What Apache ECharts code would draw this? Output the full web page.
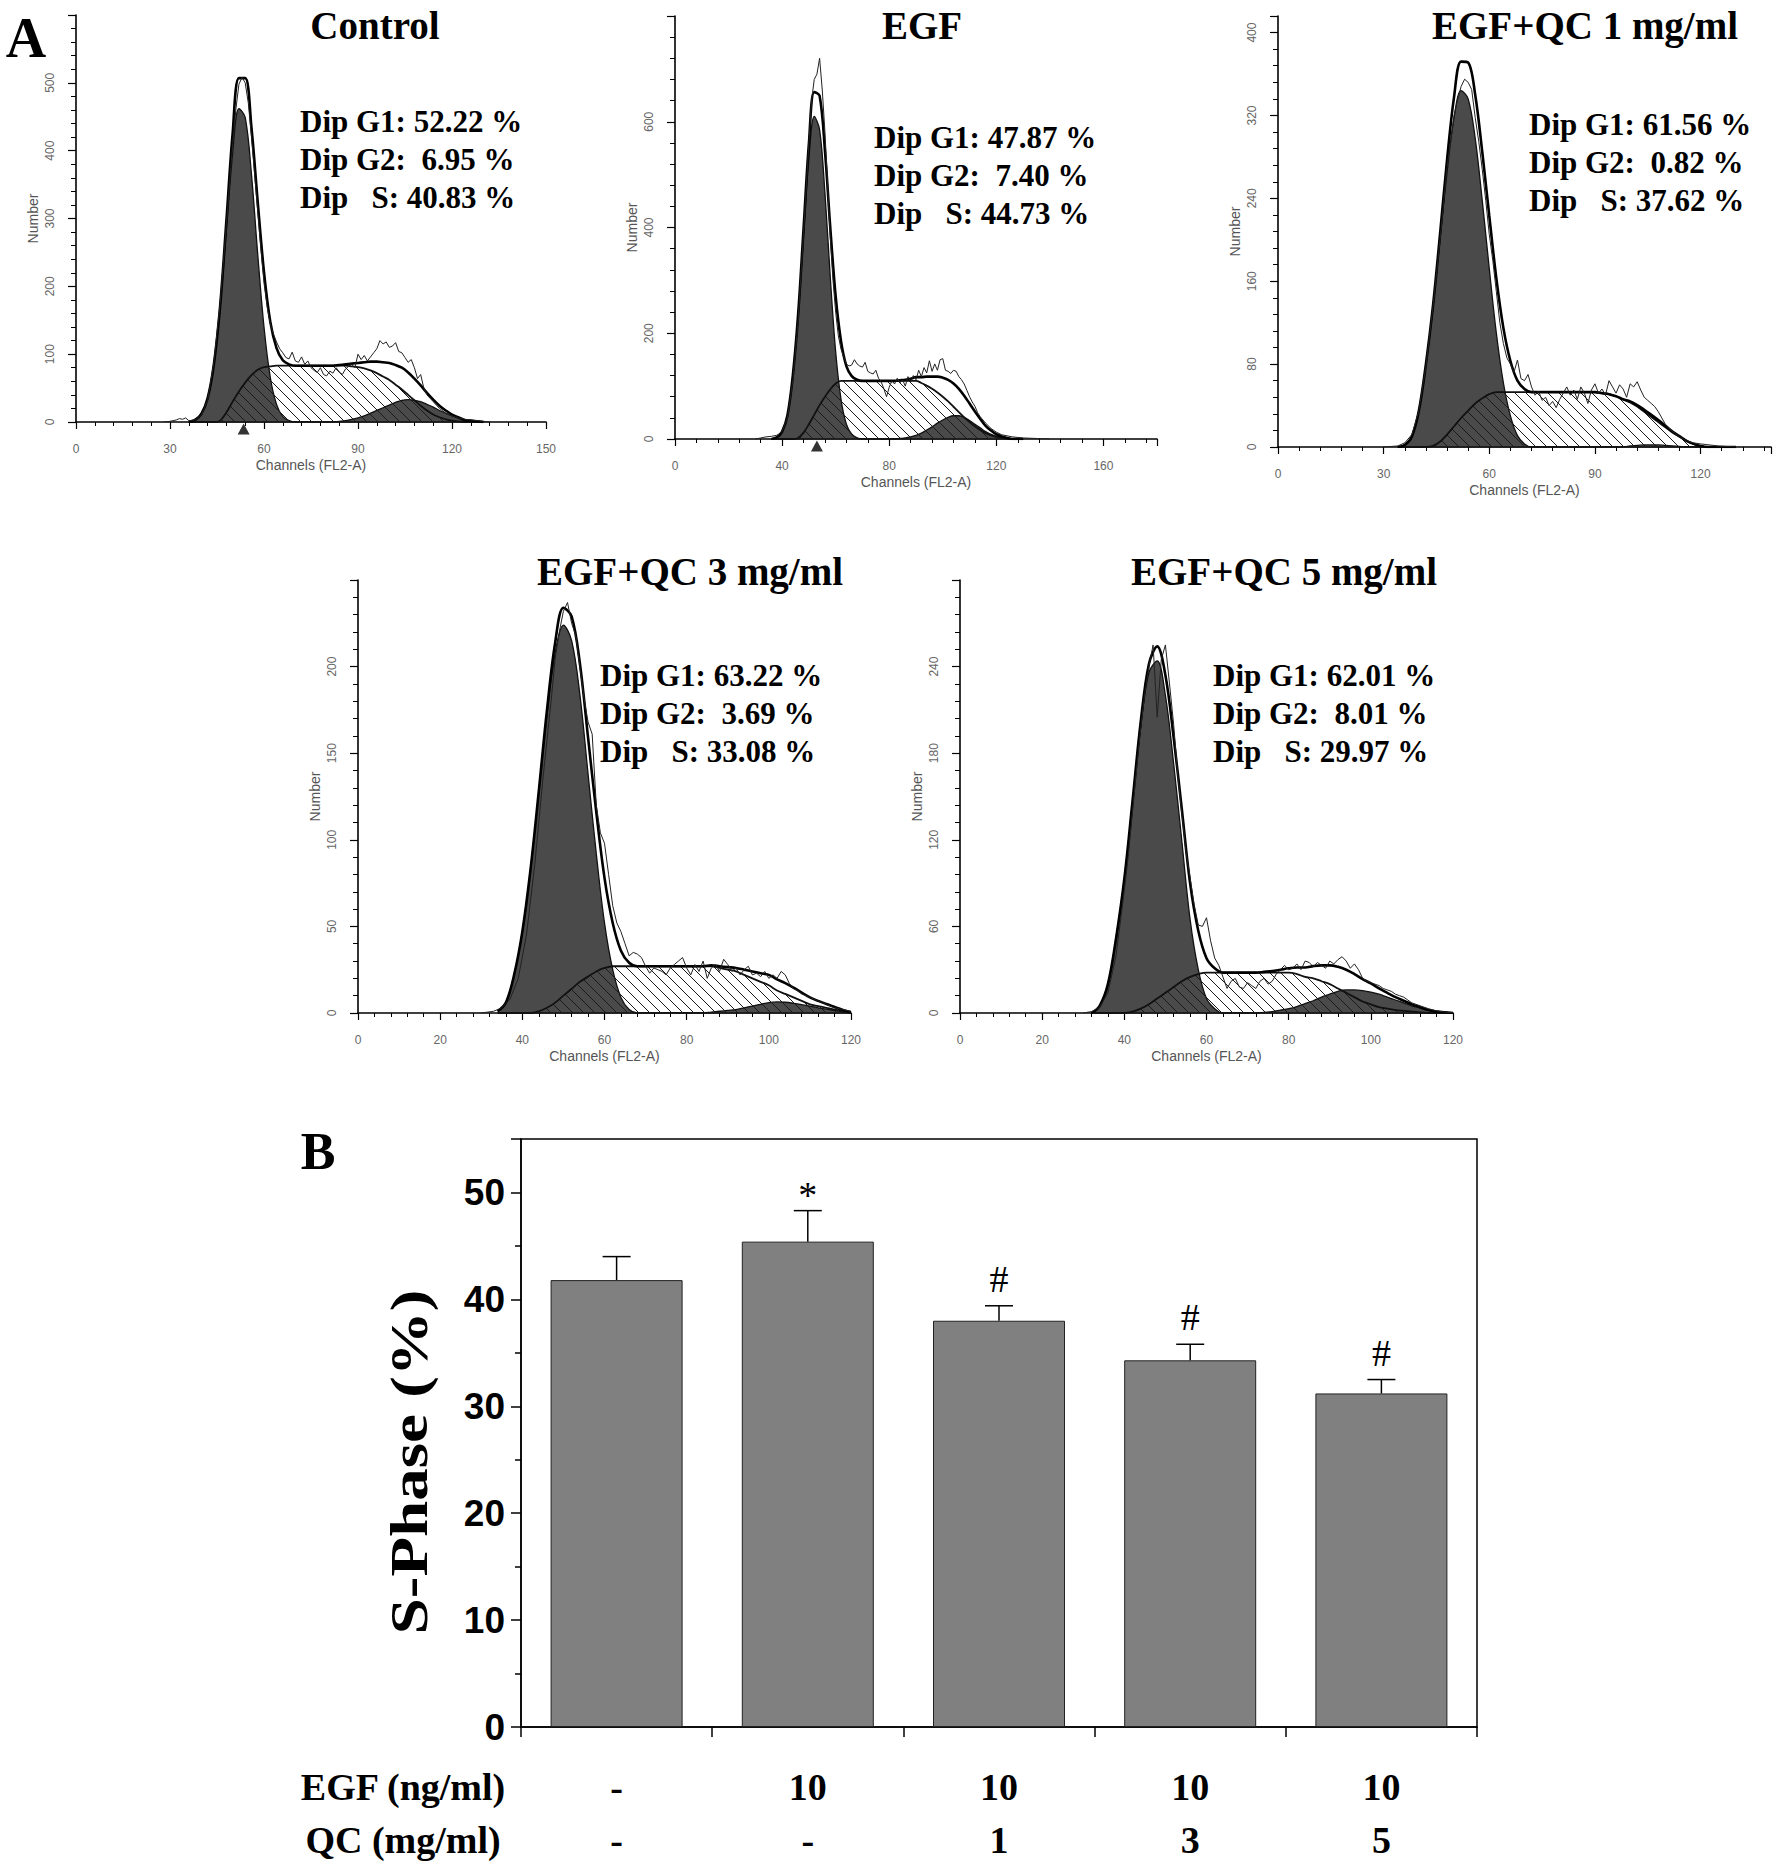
<!DOCTYPE html>
<html>
<head>
<meta charset="utf-8">
<title>Cell cycle distribution</title>
<script src="https://cdn.jsdelivr.net/npm/echarts@6/dist/echarts.min.js"></script>
<style>
html, body { margin: 0; padding: 0; background: #fff; }
#main { width: 1779px; height: 1864px; }
</style>
</head>
<body>
<div id="main"></div>
<script>
// ---- panel A: flow cytometry histograms ----
var panelTitles = ['Control', 'EGF', 'EGF+QC 1 mg/ml', 'EGF+QC 3 mg/ml', 'EGF+QC 5 mg/ml'];
var dipG1 = ['52.22', '47.87', '61.56', '63.22', '62.01'];
var dipG2 = ['6.95', '7.40', '0.82', '3.69', '8.01'];
var dipS = ['40.83', '44.73', '37.62', '33.08', '29.97'];

// axis ranges (channels / number of events)
var chanMax = [150, 180, 140, 120, 120];
var chanStep = [30, 40, 30, 20, 20];
var numMax = [600, 800, 416, 250, 300];
var numStep = [100, 200, 80, 50, 60];

// gate marker under the G1 peak (control, EGF)
var gateMark = [53.5, 53];

// Control
var ctlCh = [36,38,40,42,44,46,48,50,52,54,
  56,58,60,62,64,66,68,70,72,74,
  76,78,80,82,84,86,88,90,92,94,
  96,98,100,102,104,106,108,110,112,114,
  116,118,120,122,124,126,128,130];
var ctlG1 = [0,3,12,35,85,169,283,396,462,449,
  365,247,140,66,26,8,2,0,0,0,
  0,0,0,0,0,0,0,0,0,0,
  0,0,0,0,0,0,0,0,0,0,
  0,0,0,0,0,0,0,0];
var ctlS = [0,0,0,0,0,2,14,30,45,58,
  69,77,81,82,83,83,83,83,83,83,
  83,83,83,83,83,83,82,81,79,76,
  72,67,62,55,48,40,32,24,17,11,
  7,4,2,1,0,0,0,0];
var ctlG2 = [0,0,0,0,0,0,0,0,0,0,
  0,0,0,0,0,0,0,0,0,0,
  0,0,0,0,1,2,4,6,9,13,
  17,21,25,29,32,33,32,30,26,22,
  17,13,9,6,3,2,1,0];
var ctlRaw = [[28,0],[30,1],[32,3],[33,5],[34,4],[35,6],[36,2],[38,3],[40,10],[42,32],[44,88],[46,175],
  [48,292],[50,410],[51,460],[52,498],[53,508],[54,500],[55,470],[56,420],[57,365],[58,310],[59,255],
  [60,205],[61,170],[62,145],[63,130],[64,118],[65,108],[66,102],[67,95],[68,93],[69,103],[70,90],
  [71,88],[72,96],[73,85],[74,90],[75,80],[76,76],[77,73],[78,80],[79,70],[80,68],[81,75],[82,72],
  [83,80],[84,74],[85,70],[86,78],[87,82],[88,85],[89,80],[90,100],[91,92],[92,98],[93,90],[94,96],
  [95,102],[96,108],[97,120],[98,115],[99,118],[100,110],[101,112],[102,117],[103,104],[104,102],
  [105,95],[106,88],[107,92],[108,80],[109,64],[110,70],[111,50],[112,40],[114,30],[116,20],[118,13],
  [120,9],[122,6],[124,4],[126,3],[128,2],[130,1],[132,0]];

// EGF
var egfCh = [36,38,40,42,44,46,48,50,52,54,
  56,58,60,62,64,66,68,70,72,74,
  76,78,80,82,84,86,88,90,92,94,
  96,98,100,102,104,106,108,110,112,114,
  116,118,120,122,124,126,128,130];
var egfG1 = [0,3,14,45,120,235,385,530,610,585,
  465,305,165,75,28,9,2,0,0,0,
  0,0,0,0,0,0,0,0,0,0,
  0,0,0,0,0,0,0,0,0,0,
  0,0,0,0,0,0,0,0];
var egfS = [0,0,0,0,0,2,12,28,46,64,
  80,94,105,110,110,110,110,110,110,110,
  110,110,110,110,110,110,110,110,106,101,
  95,88,80,71,61,51,41,32,24,17,
  11,7,4,2,1,0,0,0];
var egfG2 = [0,0,0,0,0,0,0,0,0,0,
  0,0,0,0,0,0,0,0,0,0,
  0,0,0,0,1,2,4,7,11,17,
  23,30,36,41,44,44,41,35,28,21,
  14,9,5,3,1,0,0,0];
var egfRaw = [[30,0],[32,2],[34,4],[36,5],[38,7],[40,14],[42,40],[44,110],[46,225],[48,390],[50,560],
  [51,640],[52,680],[53,690],[54,720],[55,660],[56,580],[57,480],[58,380],[59,300],[60,240],[61,195],
  [62,170],[63,155],[64,142],[65,138],[66,140],[67,150],[68,142],[69,138],[70,136],[71,145],[72,128],
  [73,125],[74,123],[75,130],[76,115],[77,108],[78,95],[79,80],[80,98],[81,110],[82,104],[83,115],
  [84,106],[85,112],[86,100],[87,118],[88,108],[89,120],[90,112],[91,130],[92,118],[93,135],[94,125],
  [95,148],[96,128],[97,142],[98,130],[99,150],[100,152],[101,130],[102,128],[103,124],[104,130],
  [105,128],[106,118],[107,112],[108,104],[109,92],[110,80],[111,70],[112,62],[113,50],[114,42],
  [116,30],[118,20],[120,13],[122,8],[124,6],[126,4],[130,2],[135,1],[140,0]];

// EGF + QC 1 mg/ml
var qc1Ch = [34,36,38,40,42,44,46,48,50,52,
  54,56,58,60,62,64,66,68,70,72,
  74,76,78,80,82,84,86,88,90,92,
  94,96,98,100,102,104,106,108,110,112,
  114,116,118,120,122,124,126,128,130];
var qc1G1 = [0,2,10,35,80,135,200,265,318,344,
  336,298,238,172,110,62,30,11,3,0,
  0,0,0,0,0,0,0,0,0,0,
  0,0,0,0,0,0,0,0,0,0,
  0,0,0,0,0,0,0,0,0];
var qc1S = [0,0,0,0,0,1,5,12,20,28,
  35,42,47,51,53,53,53,53,53,53,
  53,53,53,53,53,53,53,53,53,52,
  51,49,46,43,39,34,29,24,19,14,
  10,6,3,1,0,0,0,0,0];
var qc1G2 = [0,0,0,0,0,0,0,0,0,0,
  0,0,0,0,0,0,0,0,0,0,
  0,0,0,0,0,0,0,0,0,0,
  0,0,0,1,1.5,2,2,2,1.5,1,
  0.5,0,0,0,0,0,0,0,0];
var qc1Raw = [[30,0],[34,1],[36,4],[38,12],[40,35],[42,78],[44,135],[46,200],[48,270],[50,320],[51,335],
  [52,348],[53,355],[54,352],[55,345],[56,318],[57,295],[58,268],[59,238],[60,205],[61,180],[62,150],
  [63,120],[64,100],[65,86],[66,80],[67,72],[68,84],[69,66],[70,64],[71,70],[72,58],[73,50],[74,54],
  [75,45],[76,48],[77,40],[78,44],[79,38],[80,46],[81,52],[82,58],[83,50],[84,55],[85,46],[86,58],
  [87,52],[88,42],[89,55],[90,61],[91,52],[92,56],[93,50],[94,64],[95,58],[96,52],[97,60],[98,56],
  [99,48],[100,61],[101,58],[102,63],[103,55],[104,48],[105,45],[106,42],[107,39],[108,34],[109,28],
  [110,22],[112,15],[114,10],[116,6],[118,4],[120,3],[125,1],[130,0]];

// EGF + QC 3 mg/ml
var qc3Ch = [34,36,38,40,42,44,46,48,50,52,
  54,56,58,60,62,64,66,68,70,72,
  74,76,78,80,82,84,86,88,90,92,
  94,96,98,100,102,104,106,108,110,112,
  114,116,118,120];
var qc3G1 = [1,6,22,47,83,127,172,208,224,215,
  184,138,92,52,25,9,2,0,0,0,
  0,0,0,0,0,0,0,0,0,0,
  0,0,0,0,0,0,0,0,0,0,
  0,0,0,0];
var qc3S = [0,0,0,0,0,1,3,6,10,14,
  18,21,24,26,27,27,27,27,27,27,
  27,27,27,27,27,27,27,26,25,24,
  22,20,18,16,13,11,9,7,5,4,
  3,2,1,0];
var qc3G2 = [0,0,0,0,0,0,0,0,0,0,
  0,0,0,0,0,0,0,0,0,0,
  0,0,0,0,0,0,0.5,1,1.5,2,
  3,4,5,6,6.4,6.2,5.6,4.8,4,3,
  2.2,1.5,0.8,0.4];
var qc3Raw = [[30,0],[33,1],[35,3],[37,8],[39,20],[41,45],[43,85],[45,135],[47,180],[48,205],[49,220],
  [50,232],[51,237],[52,225],[53,218],[54,200],[55,182],[56,168],[57,161],[58,120],[59,104],[60,98],
  [61,80],[62,62],[63,52],[64,47],[65,40],[66,33],[67,35],[68,34],[69,32],[70,27],[71,23],[72,26],
  [73,25],[74,24],[75,22],[76,26],[77,28],[78,30],[79,32],[80,26],[81,22],[82,28],[83,24],[84,30],
  [85,20],[86,26],[87,28],[88,24],[89,31],[90,28],[91,24],[92,26],[93,22],[94,25],[95,27],[96,22],
  [97,23],[98,21],[99,24],[100,20],[101,22],[102,20],[103,24],[104,22],[105,17],[106,14],[107,13],
  [108,11],[110,9],[112,7],[114,5],[116,3],[118,2],[120,1]];

// EGF + QC 5 mg/ml
var qc5Ch = [32,34,36,38,40,42,44,46,48,50,
  52,54,56,58,60,62,64,66,68,70,
  72,74,76,78,80,82,84,86,88,90,
  92,94,96,98,100,102,104,106,108,110,
  112,114,116,118,120];
var qc5G1 = [0,5,20,52,93,146,199,236,244,220,
  173,119,65,30,10,3,0,0,0,0,
  0,0,0,0,0,0,0,0,0,0,
  0,0,0,0,0,0,0,0,0,0,
  0,0,0,0,0];
var qc5S = [0,0,0,0,0,1,3,6,10,14,
  18,22,25,27,28,28,28,28,28,28,
  28,28,28,28,28,27,25,24,22,20,
  17,14,11,8,6,4,3,2,1.5,1,
  0.5,0,0,0,0];
var qc5G2 = [0,0,0,0,0,0,0,0,0,0,
  0,0,0,0,0,0,0,0,0,0,
  0,0.5,1,2,3,4.5,6.5,8.5,11,13,
  15,16,16,15.5,14.5,13,11,9,7,5,
  3.5,2,1,0.5,0];
var qc5Raw = [[30,0],[32,1],[34,4],[36,14],[38,40],[40,85],[41,110],[42,140],[43,170],[44,198],[45,222],
  [46,240],[47,255],[48,205],[49,245],[50,255],[51,228],[52,200],[53,165],[54,138],[55,112],[56,94],
  [57,75],[58,61],[59,60],[60,66],[61,50],[62,38],[63,33],[64,25],[65,17],[66,22],[67,24],[68,18],
  [69,17],[70,21],[71,19],[72,17],[73,22],[74,24],[75,20],[76,22],[77,27],[78,30],[79,33],[80,30],
  [81,31],[82,34],[83,30],[84,36],[85,35],[86,32],[87,35],[88,33],[89,31],[90,36],[91,34],[92,37],
  [93,39],[94,36],[95,31],[96,34],[97,30],[98,24],[99,22],[100,21],[101,20],[102,19],[103,17],
  [104,16],[105,15],[106,13],[107,12],[108,11],[109,9],[110,7],[112,5],[114,3],[116,1.5],[118,0.7],[120,0]];

// ---- panel B: S-phase bar chart ----
var groups = ['Control', 'EGF', 'EGF+QC 1', 'EGF+QC 3', 'EGF+QC 5'];
var egfDose = ['-', '10', '10', '10', '10'];
var qcDose = ['-', '-', '1', '3', '5'];
var sPhase = [41.8, 45.4, 38.0, 34.3, 31.2];
var sPhaseErr = [2.2, 2.9, 1.4, 1.5, 1.3];
var sigMarks = ['', '*', '#', '#', '#'];

var serif = '"Liberation Serif", "Times New Roman", serif';
var sans = '"Liberation Sans", Arial, sans-serif';

var hists = [
  {ch: ctlCh, g1: ctlG1, s: ctlS, g2: ctlG2, raw: ctlRaw},
  {ch: egfCh, g1: egfG1, s: egfS, g2: egfG2, raw: egfRaw},
  {ch: qc1Ch, g1: qc1G1, s: qc1S, g2: qc1G2, raw: qc1Raw},
  {ch: qc3Ch, g1: qc3G1, s: qc3S, g2: qc3G2, raw: qc3Raw},
  {ch: qc5Ch, g1: qc5G1, s: qc5S, g2: qc5G2, raw: qc5Raw}
];

// layout (pixels)
var boxes = [
  {left: 76, top: 15, width: 470, height: 407},
  {left: 675, top: 16, width: 482, height: 423},
  {left: 1278, top: 16, width: 493, height: 431},
  {left: 358, top: 580, width: 493, height: 433},
  {left: 960, top: 580, width: 493, height: 433}
];
var titlePos = [[375, 25], [922, 25], [1585, 25], [690, 571], [1284, 571]];
var dipPos = [[300, 102], [874, 118], [1529, 105], [600, 656], [1213, 656]];

function pairs(ch, v) {
  return ch.map(function (c, k) { return [c, v[k]]; });
}
function fitOf(h) {
  return h.ch.map(function (c, k) { return [c, h.g1[k] + h.s[k] + h.g2[k]]; });
}
function makeHatch() {
  var n = 11, c = document.createElement('canvas');
  c.width = n; c.height = n;
  var g = c.getContext('2d');
  g.strokeStyle = '#1a1a1a';
  g.lineWidth = 1;
  g.beginPath();
  [-n, 0, n].forEach(function (k) { g.moveTo(k, 0); g.lineTo(k + n, n); });
  g.stroke();
  return c;
}
var hatch = makeHatch();

var grids = [], xAxes = [], yAxes = [], series = [], graphics = [];

hists.forEach(function (h, p) {
  var b = boxes[p];
  grids.push({left: b.left, top: b.top, width: b.width, height: b.height, outerBoundsMode: 'none'});
  xAxes.push({
    type: 'value', gridIndex: p, min: 0, max: chanMax[p], interval: chanStep[p],
    name: 'Channels (FL2-A)', nameLocation: 'middle', nameGap: 36,
    nameTextStyle: {color: '#555', fontSize: 14, fontFamily: sans},
    axisLine: {show: true, lineStyle: {color: '#000', width: 1.6}},
    axisTick: {show: true, length: 7, lineStyle: {color: '#000', width: 1.2}},
    minorTick: {show: true, splitNumber: 5, length: 4, lineStyle: {color: '#000', width: 1}},
    axisLabel: {color: '#666', fontSize: 12, fontFamily: sans, margin: 21,
      showMaxLabel: chanMax[p] % chanStep[p] === 0},
    splitLine: {show: false}
  });
  yAxes.push({
    type: 'value', gridIndex: p, min: 0, max: numMax[p], interval: numStep[p],
    name: 'Number', nameLocation: 'middle', nameGap: 36, nameRotate: 90,
    nameTextStyle: {color: '#555', fontSize: 14, fontFamily: sans},
    axisLine: {show: true, lineStyle: {color: '#000', width: 1.6}},
    axisTick: {show: true, length: 8, lineStyle: {color: '#000', width: 1.2}},
    minorTick: {show: true, splitNumber: 5, length: 5, lineStyle: {color: '#000', width: 1}},
    axisLabel: {color: '#666', fontSize: 12, fontFamily: sans, rotate: 90, margin: 20, showMaxLabel: false},
    splitLine: {show: false}
  });

  var common = {type: 'line', xAxisIndex: p, yAxisIndex: p, symbol: 'none', silent: true, animation: false};
  series.push(Object.assign({}, common, {
    data: pairs(h.ch, h.g1), smooth: 0.35, z: 2,
    lineStyle: {color: '#111', width: 1.3}, areaStyle: {color: '#4a4a4a', opacity: 1}
  }));
  series.push(Object.assign({}, common, {
    data: pairs(h.ch, h.g2), smooth: 0.35, z: 2,
    lineStyle: {color: '#111', width: 1.3}, areaStyle: {color: '#4a4a4a', opacity: 1}
  }));
  series.push(Object.assign({}, common, {
    data: pairs(h.ch, h.s), smooth: 0.35, z: 3,
    lineStyle: {color: '#111', width: 1.8},
    areaStyle: {color: {image: hatch, repeat: 'repeat', imageWidth: 11, imageHeight: 11}, opacity: 1}
  }));
  series.push(Object.assign({}, common, {
    data: fitOf(h), smooth: 0.35, z: 4,
    lineStyle: {color: '#000', width: 2.6}
  }));
  series.push(Object.assign({}, common, {
    data: h.raw, z: 5,
    lineStyle: {color: '#222', width: 1}
  }));
  if (gateMark[p] != null) {
    series.push({
      type: 'scatter', xAxisIndex: p, yAxisIndex: p, data: [[gateMark[p], 0]],
      symbol: 'triangle', symbolSize: [12, 11], symbolOffset: [0, 7], clip: false,
      itemStyle: {color: '#000'}, silent: true, z: 10
    });
  }

  graphics.push({
    type: 'text', x: titlePos[p][0], y: titlePos[p][1],
    style: {text: panelTitles[p], fill: '#000', fontSize: 39, fontWeight: 'bold', fontFamily: serif,
      textAlign: 'center', textVerticalAlign: 'middle'}
  });
  graphics.push({
    type: 'text', x: dipPos[p][0], y: dipPos[p][1],
    style: {
      text: 'Dip G1: ' + dipG1[p] + ' %\nDip G2:  ' + dipG2[p] + ' %\nDip   S: ' + dipS[p] + ' %',
      fill: '#000', fontSize: 31, fontWeight: 'bold', fontFamily: serif, lineHeight: 38,
      textAlign: 'left', textVerticalAlign: 'top'
    }
  });
});

// bar chart grid
grids.push({left: 521, top: 1139, width: 956, height: 588, show: true, borderColor: '#000', borderWidth: 1.5,
  outerBoundsMode: 'none'});
xAxes.push({
  type: 'category', gridIndex: 5, data: groups,
  axisLine: {show: true, lineStyle: {color: '#000', width: 1.5}},
  axisTick: {show: true, length: 10, lineStyle: {color: '#000', width: 1.5}},
  axisLabel: {
    formatter: function (v, i) { return egfDose[i] + '\n' + qcDose[i]; },
    color: '#000', fontSize: 38, fontWeight: 'bold', fontFamily: serif, lineHeight: 53, margin: 33
  },
  splitLine: {show: false}
});
yAxes.push({
  type: 'value', gridIndex: 5, min: 0, max: 55, interval: 10,
  axisLine: {show: true, lineStyle: {color: '#000', width: 1.5}},
  axisTick: {show: true, length: 10, lineStyle: {color: '#000', width: 1.5}},
  minorTick: {show: true, splitNumber: 2, length: 6, lineStyle: {color: '#000', width: 1.5}},
  axisLabel: {color: '#000', fontSize: 37, fontWeight: 'bold', fontFamily: sans, margin: 16, showMaxLabel: false},
  splitLine: {show: false}
});
series.push({
  type: 'bar', xAxisIndex: 5, yAxisIndex: 5, data: sPhase, barWidth: 132, silent: true,
  itemStyle: {color: '#808080', borderColor: '#222', borderWidth: 1}
});
series.push({
  type: 'custom', xAxisIndex: 5, yAxisIndex: 5, silent: true, z: 5,
  data: sPhase.map(function (v, i) { return [i, v, sPhaseErr[i]]; }),
  renderItem: function (params, api) {
    var i = params.dataIndex;
    var base = api.coord([api.value(0), api.value(1)]);
    var top = api.coord([api.value(0), api.value(1) + api.value(2)]);
    var half = 14;
    var st = {stroke: '#000', lineWidth: 1.5};
    var kids = [
      {type: 'line', shape: {x1: base[0], y1: base[1], x2: top[0], y2: top[1]}, style: st},
      {type: 'line', shape: {x1: top[0] - half, y1: top[1], x2: top[0] + half, y2: top[1]}, style: st}
    ];
    if (sigMarks[i]) {
      kids.push({
        type: 'text', x: top[0], y: top[1] - (sigMarks[i] === '*' ? 16 : 27),
        style: {text: sigMarks[i], fill: '#000', fontSize: 38, fontFamily: serif,
          textAlign: 'center', textVerticalAlign: 'middle'}
      });
    }
    return {type: 'group', children: kids};
  }
});

// panel letters, axis title and row headers
graphics.push(
  {type: 'text', x: 26, y: 38, style: {text: 'A', fill: '#000', fontSize: 56, fontWeight: 'bold', fontFamily: serif,
    textAlign: 'center', textVerticalAlign: 'middle'}},
  {type: 'text', x: 318, y: 1151, style: {text: 'B', fill: '#000', fontSize: 52, fontWeight: 'bold', fontFamily: serif,
    textAlign: 'center', textVerticalAlign: 'middle'}},
  {type: 'text', x: 410, y: 1462, rotation: Math.PI / 2, scaleX: 1.25,
    style: {text: 'S-Phase (%)', fill: '#000', fontSize: 52, fontWeight: 'bold', fontFamily: serif,
      textAlign: 'center', textVerticalAlign: 'middle'}},
  {type: 'text', x: 403, y: 1787, style: {text: 'EGF (ng/ml)', fill: '#000', fontSize: 38, fontWeight: 'bold',
    fontFamily: serif, textAlign: 'center', textVerticalAlign: 'middle'}},
  {type: 'text', x: 403, y: 1840, style: {text: 'QC (mg/ml)', fill: '#000', fontSize: 38, fontWeight: 'bold',
    fontFamily: serif, textAlign: 'center', textVerticalAlign: 'middle'}}
);

var chart = echarts.init(document.getElementById('main'), null, {renderer: 'svg'});
chart.setOption({
  animation: false,
  backgroundColor: '#fff',
  textStyle: {fontFamily: sans},
  grid: grids,
  xAxis: xAxes,
  yAxis: yAxes,
  series: series,
  graphic: graphics
});
</script>
</body>
</html>
